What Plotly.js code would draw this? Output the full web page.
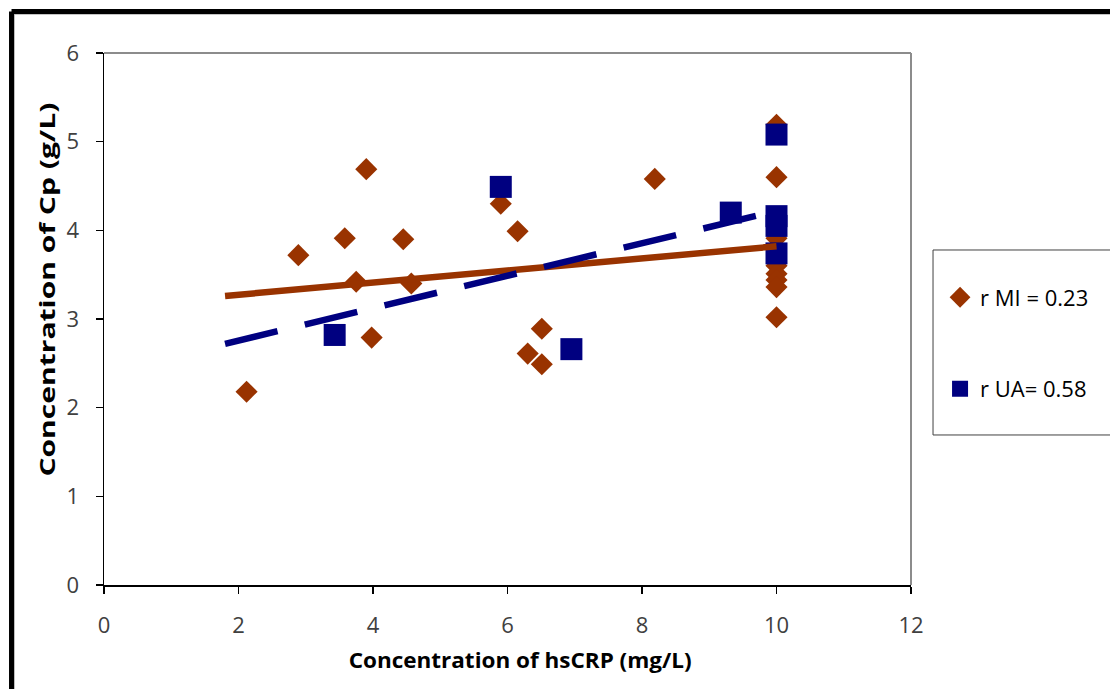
<!DOCTYPE html>
<html>
<head>
<meta charset="utf-8">
<script src="https://cdn.plot.ly/plotly-3.0.1.min.js"></script>
<style>
  html, body { margin: 0; padding: 0; background: #fff; }
  #chart { width: 1110px; height: 689px; }
</style>
</head>
<body>
<div id="chart"></div>
<script>
// MI group (diamonds)
const miX = [2.12, 2.89, 3.58, 3.75, 3.90, 3.98, 4.45, 4.57, 5.90, 6.15, 6.30, 6.51, 6.51, 8.19, 10, 10, 10, 10, 10, 10, 10, 10];
const miY = [2.18, 3.72, 3.91, 3.42, 4.69, 2.79, 3.90, 3.40, 4.30, 3.99, 2.61, 2.89, 2.49, 4.58, 5.19, 4.60, 3.91, 3.60, 3.51, 3.44, 3.36, 3.02];
// UA group (squares)
const uaX = [3.43, 5.90, 6.95, 9.32, 10, 10, 10, 10];
const uaY = [2.82, 4.49, 2.66, 4.20, 5.08, 4.16, 4.05, 3.74];
// Trend lines (as drawn)
const trendX = [1.8, 10];
const trendMI = [3.26, 3.82];
const trendUA = [2.72, 4.22];
// Labels
const legendMI = 'r MI = 0.23';
const legendUA = 'r UA= 0.58';
const xTitle = 'Concentration of hsCRP (mg/L)';
const yTitle = 'Concentration of Cp (g/L)';
const xTicks = [0, 2, 4, 6, 8, 10, 12];
const yTicks = [0, 1, 2, 3, 4, 5, 6];

const brown = '#993300';
const navy = '#000080';

const traces = [
  { x: miX, y: miY, type: 'scatter', mode: 'markers', name: legendMI, legendgroup: 'a',
    marker: { symbol: 'diamond', size: 17, color: brown } },
  { x: uaX, y: uaY, type: 'scatter', mode: 'markers', name: legendUA, legendgroup: 'b',
    marker: { symbol: 'square', size: 22, color: navy } },
  { x: trendX, y: trendMI, type: 'scatter', mode: 'lines', showlegend: false,
    line: { color: brown, width: 6.5 } },
  { x: trendX, y: trendUA, type: 'scatter', mode: 'lines', showlegend: false,
    line: { color: navy, width: 6.5, dash: '54px,28px' } }
];

const tickFont = { family: 'Open Sans, sans-serif', size: 22, color: '#404040' };
const titleFont = { family: 'Open Sans, sans-serif', size: 21, color: '#000' };

const layout = {
  width: 1110, height: 689,
  margin: { l: 104, r: 199, t: 53, b: 104 },
  paper_bgcolor: '#fff', plot_bgcolor: '#fff',
  showlegend: true,
  legend: {
    x: 1.036, xanchor: 'left', y: 0.58, yanchor: 'top',
    font: { family: 'Open Sans, sans-serif', size: 22, color: '#000' },
    bgcolor: 'rgba(0,0,0,0)', borderwidth: 0,
    tracegroupgap: 60, traceorder: 'grouped', itemsizing: 'trace'
  },
  xaxis: {
    range: [0, 12], tickvals: xTicks, ticktext: xTicks.map(String),
    showgrid: false, zeroline: false, showline: true, linecolor: '#000', linewidth: 1.5,
    ticks: 'outside', ticklen: 7, tickcolor: '#000', tickwidth: 1.5,
    tickfont: tickFont, ticklabelstandoff: 13, fixedrange: true
  },
  yaxis: {
    range: [0, 6], tickvals: yTicks, ticktext: yTicks.map(String),
    showgrid: false, zeroline: false, showline: true, linecolor: '#000', linewidth: 1.5,
    ticks: 'outside', ticklen: 7, tickcolor: '#000', tickwidth: 1.5,
    tickfont: tickFont, ticklabelstandoff: 12, fixedrange: true
  },
  shapes: [
    // plot area top and right borders (grey)
    { type: 'line', xref: 'paper', yref: 'paper', x0: 0, x1: 1, y0: 1, y1: 1, line: { color: '#8c8c8c', width: 2 } },
    { type: 'line', xref: 'paper', yref: 'paper', x0: 1, x1: 1, y0: 0, y1: 1, line: { color: '#8c8c8c', width: 2 } },
    // legend box
    { type: 'rect', xref: 'paper', yref: 'paper', x0: 1.0273, x1: 1.26, y0: 0.282, y1: 0.6297, line: { color: '#404040', width: 1 } },
    // outer frame shadow
    { type: 'line', xref: 'paper', yref: 'paper', x0: -0.1115, x1: 1.3, y0: 1.0735, y1: 1.0735, line: { color: '#b0b0b0', width: 1.5 } },
    { type: 'line', xref: 'paper', yref: 'paper', x0: -0.1115, x1: -0.1115, y0: -0.3, y1: 1.0735, line: { color: '#b0b0b0', width: 1.5 } },
    // outer frame
    { type: 'line', xref: 'paper', yref: 'paper', x0: -0.1146, x1: 1.3, y0: 1.0781, y1: 1.0781, line: { color: '#000', width: 5 } },
    { type: 'line', xref: 'paper', yref: 'paper', x0: -0.1146, x1: -0.1146, y0: -0.3, y1: 1.0781, line: { color: '#000', width: 5 } }
  ],
  annotations: [
    { text: '<b>' + xTitle + '</b>', xref: 'paper', yref: 'paper', x: 0.516, y: -0.141, xanchor: 'center', yanchor: 'middle',
      showarrow: false, font: titleFont },
    { text: '<b>' + yTitle + '</b>', xref: 'paper', yref: 'paper', x: -0.071, y: 0.555, xanchor: 'center', yanchor: 'middle',
      textangle: -90, showarrow: false, font: titleFont }
  ]
};

Plotly.newPlot('chart', traces, layout, { displayModeBar: false, staticPlot: true }).then(function (gd) {
  // the reference's titles are drawn stretched along their length
  const texts = gd.querySelectorAll('.annotation-text');
  if (texts.length > 1) {
    const t = texts[1];
    t.setAttribute('textLength', '374');
    t.setAttribute('lengthAdjust', 'spacingAndGlyphs');
  }
  if (texts.length > 0) {
    const t0 = texts[0];
    t0.setAttribute('textLength', '343');
    t0.setAttribute('lengthAdjust', 'spacingAndGlyphs');
  }
});
</script>
</body>
</html>
